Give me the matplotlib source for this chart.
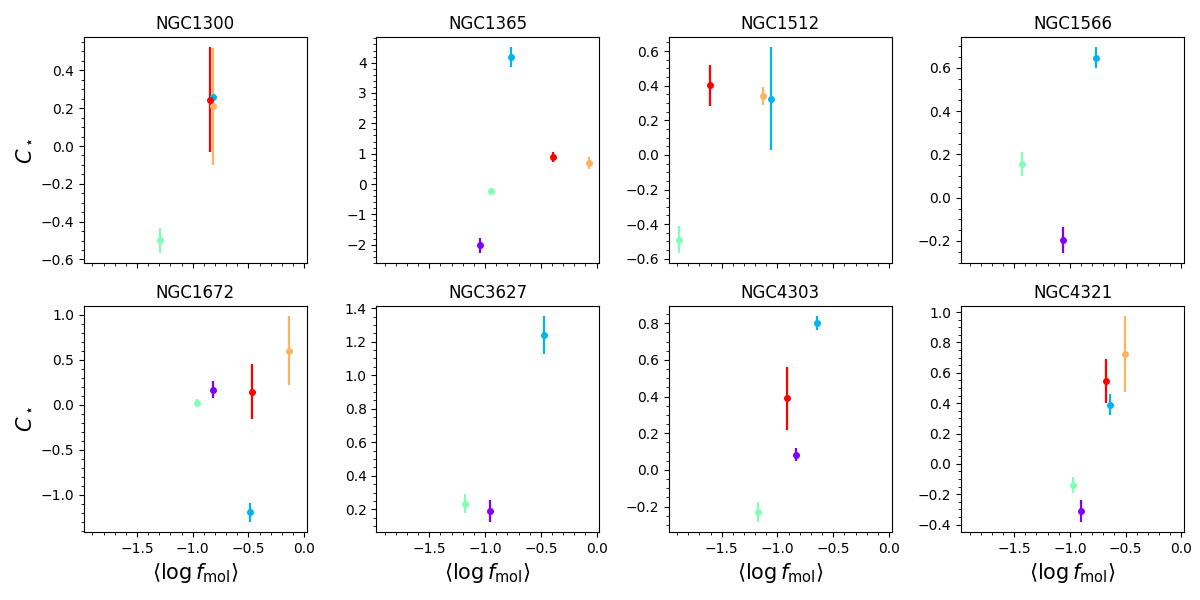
import numpy as np
import matplotlib
matplotlib.use('Agg')
import matplotlib.pyplot as plt
from matplotlib.ticker import AutoMinorLocator

galaxies = ['NGC1300', 'NGC1365', 'NGC1512', 'NGC1566',
            'NGC1672', 'NGC3627', 'NGC4303', 'NGC4321']

nan = np.nan
# one set of arrays per bin (colour), one entry per galaxy
x0 = [nan, -1.042, nan, -1.062, -0.817, -0.954, -0.835, -0.901]
y0 = [nan, -2.02, nan, -0.196, 0.167, 0.19, 0.084, -0.309]
e0 = [nan, 0.25, nan, 0.059, 0.093, 0.064, 0.036, 0.072]

x1 = [-0.82, -0.765, -1.057, -0.767, -0.485, -0.472, -0.647, -0.644]
y1 = [0.258, 4.17, 0.326, 0.646, -1.196, 1.238, 0.80, 0.391]
e1 = [0.03, 0.33, 0.295, 0.048, 0.104, 0.113, 0.038, 0.072]

x2 = [-1.291, -0.943, -1.882, -1.428, -0.957, -1.176, -1.173, -0.973]
y2 = [-0.498, -0.232, -0.489, 0.157, 0.022, 0.234, -0.228, -0.139]
e2 = [0.067, 0.04, 0.077, 0.055, 0.037, 0.058, 0.055, 0.052]

x3 = [-0.82, -0.068, -1.129, nan, -0.137, nan, nan, -0.507]
y3 = [0.21, 0.695, 0.338, nan, 0.60, nan, nan, 0.722]
e3 = [0.308, 0.21, 0.052, nan, 0.383, nan, nan, 0.25]

x4 = [-0.847, -0.393, -1.601, nan, -0.468, nan, -0.913, -0.678]
y4 = [0.244, 0.893, 0.402, nan, 0.144, nan, 0.39, 0.543]
e4 = [0.277, 0.17, 0.118, nan, 0.304, nan, 0.171, 0.145]

bins_x = [x0, x1, x2, x3, x4]
bins_y = [y0, y1, y2, y3, y4]
bins_e = [e0, e1, e2, e3, e4]
colors = plt.cm.rainbow(np.linspace(0, 1, 5))

fig, axes = plt.subplots(2, 4, figsize=(12, 6), sharex=True)
axes = axes.flatten()

for i, gal in enumerate(galaxies):
    ax = axes[i]
    for b in range(5):
        xv, yv, ev = bins_x[b][i], bins_y[b][i], bins_e[b][i]
        if np.isnan(xv):
            continue
        ax.errorbar(xv, yv, yerr=ev, fmt='o', ms=4, color=colors[b],
                    elinewidth=1.6, capsize=0)
    ax.set_title(gal, fontsize=12)
    ax.xaxis.set_minor_locator(AutoMinorLocator())
    ax.yaxis.set_minor_locator(AutoMinorLocator())
    if i % 4 == 0:
        ax.set_ylabel(r'$C_\star$', fontsize=15)
    if i >= 4:
        ax.set_xlabel(r'$\langle \log f_{\rm mol} \rangle$', fontsize=15)

axes[0].set_xlim(-1.975, 0.024)
axes[0].set_xticks([-1.5, -1.0, -0.5, 0.0])

plt.subplots_adjust(left=0.07, right=0.9867, top=0.938, bottom=0.1133,
                    wspace=0.312, hspace=0.19)
plt.savefig('out.png', dpi=100)
